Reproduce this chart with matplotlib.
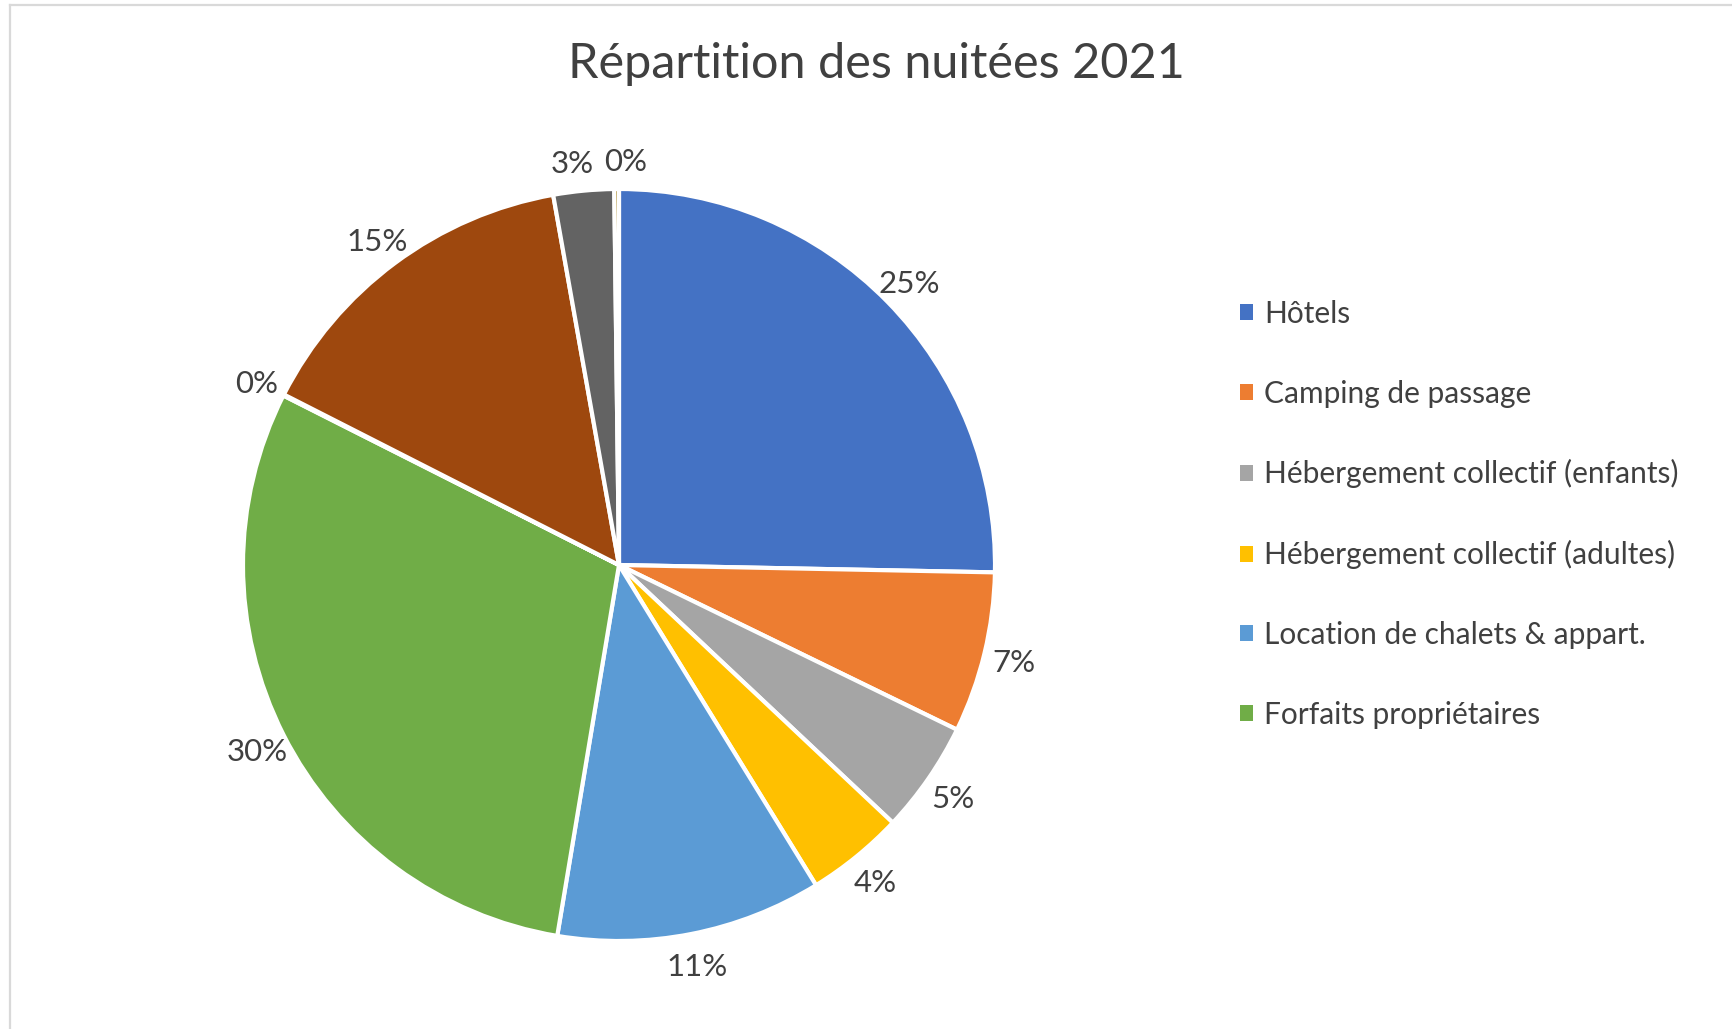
import matplotlib
matplotlib.use('Agg')
import matplotlib.pyplot as plt
import numpy as np
from matplotlib.patches import Patch
from matplotlib.lines import Line2D

# ---------------- data ----------------
title = "Répartition des nuitées 2021"
categories = [
    "Hôtels",
    "Camping de passage",
    "Hébergement collectif (enfants)",
    "Hébergement collectif (adultes)",
    "Location de chalets & appart.",
    "Forfaits propriétaires",
    "Autres 1",
    "Résidences secondaires",
    "Camping résidentiel",
    "Autres 2",
]
values = [25.3, 6.9, 4.8, 4.2, 11.4, 29.8, 0.05, 14.7, 2.6, 0.2]
colors = ['#4472C4', '#ED7D31', '#A5A5A5', '#FFC000', '#5B9BD5',
          '#70AD47', '#264478', '#9E480E', '#636363', '#997300']
legend_count = 6

# ---------------- style ----------------
plt.rcParams['font.family'] = ['Lato', 'DejaVu Sans']
TEXT = '#404040'
W, H = 1733, 1029
fig = plt.figure(figsize=(W / 100, H / 100), dpi=100)
fig.patch.set_facecolor('white')

# chart frame (left and top visible)
fig.add_artist(Line2D([10 / W, 10 / W], [0, 1 - 5 / H], transform=fig.transFigure,
                      color='#d9d9d9', lw=1.6))
fig.add_artist(Line2D([10 / W, 1], [1 - 5 / H, 1 - 5 / H], transform=fig.transFigure,
                      color='#d9d9d9', lw=1.6))

cx, cy, r = 619, 565, 376
ax = fig.add_axes([(cx - r) / W, (H - cy - r) / H, 2 * r / W, 2 * r / H])
wedges, _ = ax.pie(values, colors=colors, startangle=90, counterclock=False,
                   wedgeprops=dict(edgecolor='white', linewidth=3))
ax.set_xlim(-1, 1)
ax.set_ylim(-1, 1)
ax.set_aspect('equal')
ax.axis('off')

total = sum(values)
labels = []
for w, v in zip(wedges, values):
    ang = np.deg2rad((w.theta1 + w.theta2) / 2)
    c, s = np.cos(ang), np.sin(ang)
    t = ax.text(1.08 * c, 1.08 * s - 0.008, f"{v / total * 100:.0f}%", ha='center',
                va='center', fontsize=22.5, color=TEXT)
    labels.append(t)

# resolve overlapping labels by pushing them apart horizontally
fig.canvas.draw()
rend = fig.canvas.get_renderer()
px_per_unit = ax.transData.transform((1, 0))[0] - ax.transData.transform((0, 0))[0]
n = len(labels)
for i in range(n):
    a, b = labels[i], labels[(i + 1) % n]
    ba, bb = a.get_window_extent(rend), b.get_window_extent(rend)
    if ba.overlaps(bb):
        if ba.x0 <= bb.x0:
            ov = ba.x1 - bb.x0 + 10
            sa, sb = -ov / 2, ov / 2
        else:
            ov = bb.x1 - ba.x0 + 10
            sa, sb = ov / 2, -ov / 2
        xa, ya = a.get_position()
        xb, yb = b.get_position()
        a.set_position((xa + sa / px_per_unit, ya))
        b.set_position((xb + sb / px_per_unit, yb))

# title
fig.text(876 / W, 1 - 64 / H, title, ha='center', va='center', fontsize=35, color=TEXT)

# legend (first entries only, as in the source)
handles = [Patch(facecolor=w.get_facecolor(), edgecolor='none') for w in wedges[:legend_count]]
fig.legend(handles, categories[:legend_count], loc='upper left',
           bbox_to_anchor=(1240 / W, 1 - 300 / H), frameon=False,
           fontsize=21.5, labelcolor=TEXT, handlelength=0.45, handleheight=0.45,
           handletextpad=0.35, labelspacing=1.73, borderpad=0, borderaxespad=0)

fig.savefig('out.png', dpi=100, facecolor='white')
